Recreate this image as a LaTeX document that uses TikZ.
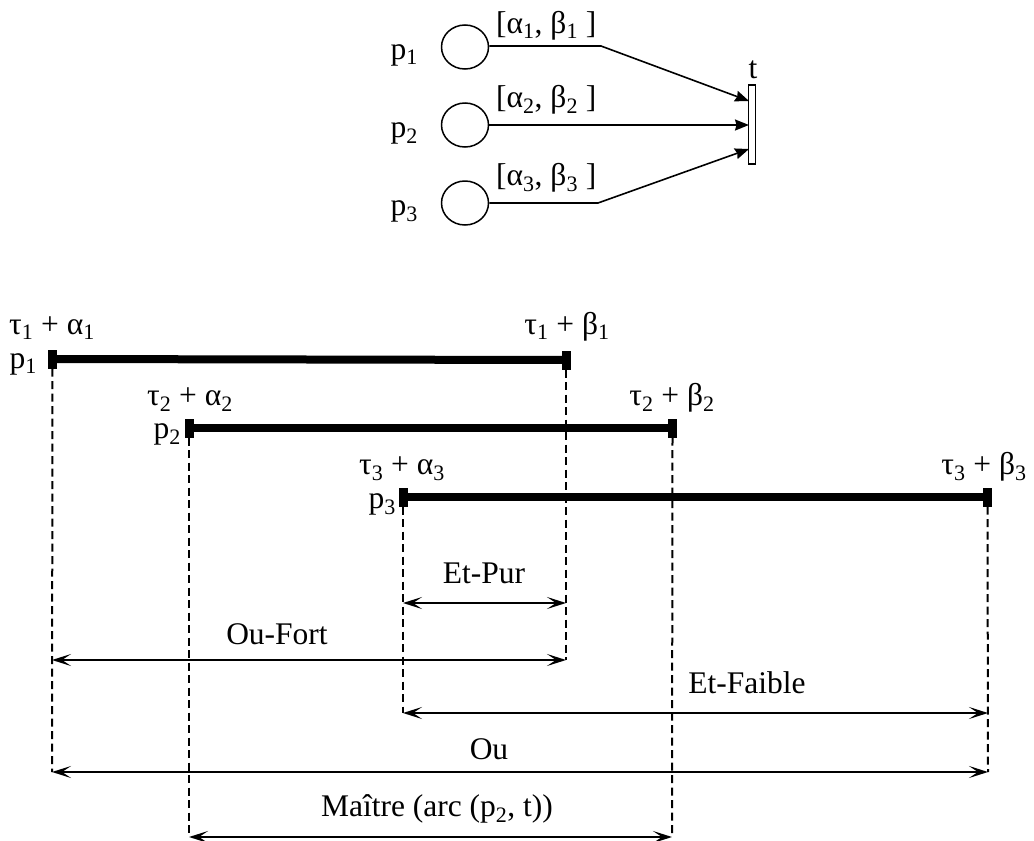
\documentclass[tikz,border=0pt]{standalone}
\usepackage{fontspec}
\setmainfont{Liberation Serif}
\usetikzlibrary{arrows.meta,shapes.geometric}
\newcommand\sbs[1]{\textsubscript{#1}}
\begin{document}
\begin{tikzpicture}[x=1pt,y=-1pt,
  txt/.style={font=\fontsize{31.5}{36}\selectfont, inner sep=0pt, anchor=base},
  place/.style={draw, line width=1.5pt, ellipse, minimum width=47pt, minimum height=44pt, inner sep=0pt},
  trans/.style={draw, line width=1.5pt, minimum width=7pt, minimum height=79pt, inner sep=0pt},
  arcline/.style={line width=1.6pt, -{Stealth[length=14pt,width=11pt,inset=1.5pt]}},
  bar/.style={line width=8pt},
  tick/.style={fill=black, minimum width=9pt, minimum height=19pt, inner sep=0pt},
  guide/.style={dash pattern=on 8pt off 4.5pt, line width=2pt},
  span/.style={line width=2.8pt, {Stealth[length=19pt,width=12pt,inset=9pt]}-{Stealth[length=19pt,width=12pt,inset=9pt]}}
]
\useasboundingbox (0,0) rectangle (1034,841);

% ---------- top: Petri net ----------
\node[place] (P1) at (465,47) {};
\node[place] (P2) at (465,125) {};
\node[place] (P3) at (465,203) {};
\node[txt, anchor=base east] (lp1) at (418,59) {p\sbs{1}};
\node[txt, anchor=base east] (lp2) at (418,137) {p\sbs{2}};
\node[txt, anchor=base east] (lp3) at (418,215) {p\sbs{3}};
\node[trans] (T) at (752,124.5) {};
\node[txt] (lt) at (753,78) {t};
\coordinate (t1) at (749,101);
\coordinate (t2) at (749,125);
\coordinate (t3) at (749,149);
\coordinate (k1) at (601,46);
\coordinate (k3) at (598,203);
\draw[arcline] (P1.east |- k1) -- (k1) -- (t1);
\draw[arcline] (P2.east) -- (t2);
\draw[arcline] (P3.east) -- (k3) -- (t3);
\node[txt, anchor=base west] (i1) at (496,33) {[α\sbs{1}, β\sbs{1} ]};
\node[txt, anchor=base west] (i2) at (496,107) {[α\sbs{2}, β\sbs{2} ]};
\node[txt, anchor=base west] (i3) at (496,185) {[α\sbs{3}, β\sbs{3} ]};

% ---------- bottom: intervals ----------
\node[tick] (a1) at (52.5,359) {};
\node[tick] (b1) at (566,360) {};
\node[tick] (a2) at (189,428) {};
\node[tick] (b2) at (672.5,428) {};
\node[tick] (a3) at (403,497) {};
\node[tick] (b3) at (987.5,497) {};
\draw[bar] (a1.center) -- (b1.center);
\draw[bar] (a2.center) -- (b2.center);
\draw[bar] (a3.center) -- (b3.center);

\node[txt] (la1) at (52,334) {τ\sbs{1} + α\sbs{1}};
\node[txt] (lb1) at (567,334) {τ\sbs{1} + β\sbs{1}};
\node[txt] (la2) at (190,405) {τ\sbs{2} + α\sbs{2}};
\node[txt] (lb2) at (672,405) {τ\sbs{2} + β\sbs{2}};
\node[txt] (la3) at (402,474) {τ\sbs{3} + α\sbs{3}};
\node[txt] (lb3) at (984,474) {τ\sbs{3} + β\sbs{3}};
\node[txt, anchor=base east] (q1) at (37,368) {p\sbs{1}};
\node[txt, anchor=base east] (q2) at (181,438) {p\sbs{2}};
\node[txt, anchor=base east] (q3) at (396,508) {p\sbs{3}};

% arrow end points
\coordinate (ep1) at (403,603);  \coordinate (ep2) at (566,603);
\coordinate (of1) at (52,660);   \coordinate (of2) at (566,660);
\coordinate (ef1) at (403,713);  \coordinate (ef2) at (988,713);
\coordinate (ou1) at (52,772);   \coordinate (ou2) at (988,772);
\coordinate (ma1) at (189,837);  \coordinate (ma2) at (672,837);

% dashed guides
\draw[guide] (a1.south) -- (ou1);
\draw[guide] (b1.south) -- (of2);
\draw[guide] (a2.south) -- (ma1);
\draw[guide] (b2.south) -- (ma2);
\draw[guide] (a3.south) -- (ef1);
\draw[guide] (b3.south) -- (ou2);

% spans
\draw[span] (ep1) -- (ep2);
\draw[span] (of1) -- (of2);
\draw[span] (ef1) -- (ef2);
\draw[span] (ou1) -- (ou2);
\draw[span] (ma1) -- (ma2);
\node[txt] (n1) at (484,583) {Et-Pur};
\node[txt] (n2) at (277,644) {Ou-Fort};
\node[txt] (n3) at (747,693) {Et-Faible};
\node[txt] (n4) at (489,759) {Ou};
\node[txt] (n5) at (437,816) {Maître (arc (p\sbs{2}, t))};
\end{tikzpicture}
\end{document}
